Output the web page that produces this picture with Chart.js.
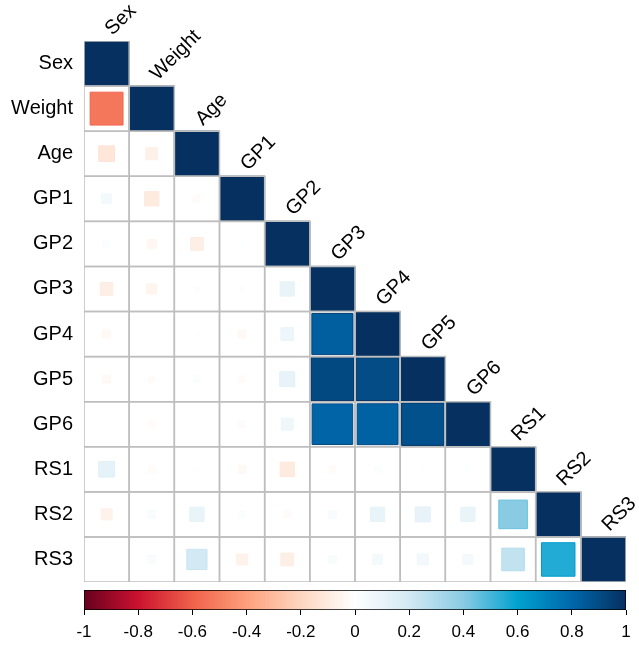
<!DOCTYPE html>
<html>
<head>
<meta charset="utf-8">
<script src="https://cdn.jsdelivr.net/npm/chart.js@4"></script>
<style>
  html, body { margin: 0; padding: 0; background: #ffffff; }
  #wrap { position: relative; width: 639px; height: 646px; }
  #matrix { position: absolute; left: 0; top: 0; }
  #legendBar { position: absolute; left: 0; top: 584px; }
</style>
</head>
<body>
<div id="wrap">
  <canvas id="matrix" width="639" height="646"></canvas>
  <canvas id="legendBar" width="639" height="62"></canvas>
</div>
<script>
// Variables, in matrix order
const variables = ['Sex', 'Weight', 'Age', 'GP1', 'GP2', 'GP3', 'GP4', 'GP5', 'GP6', 'RS1', 'RS2', 'RS3'];

// Lower-triangle correlations, one array per row (columns left of the diagonal)
const rowSex    = [];
const rowWeight = [-0.53];
const rowAge    = [-0.12, -0.07];
const rowGP1    = [0.05, -0.10, -0.02];
const rowGP2    = [0.02, -0.04, -0.08, 0.01];
const rowGP3    = [-0.08, -0.05, -0.01, -0.01, 0.10];
const rowGP4    = [-0.03, 0.00, 0.01, -0.03, 0.08, 0.83];
const rowGP5    = [-0.03, -0.02, 0.02, -0.02, 0.11, 0.91, 0.90];
const rowGP6    = [0.00, -0.02, 0.00, -0.02, 0.07, 0.81, 0.82, 0.88];
const rowRS1    = [0.12, -0.02, 0.01, -0.03, -0.10, -0.02, 0.02, 0.01, 0.01];
const rowRS2    = [-0.06, 0.03, 0.10, 0.02, -0.02, 0.03, 0.10, 0.11, 0.10, 0.40];
const rowRS3    = [0.00, 0.03, 0.20, -0.06, -0.08, 0.03, 0.05, 0.06, 0.05, 0.25, 0.55];

// Colour bar ticks
const scaleTicks = [-1, -0.8, -0.6, -0.4, -0.2, 0, 0.2, 0.4, 0.6, 0.8, 1];

// Diverging palette stops (value, colour)
const paletteValues = [-1, -0.8, -0.6, -0.4, -0.2, 0, 0.2, 0.4, 0.6, 0.8, 1];
const paletteColors = ['#67001f', '#cb1230', '#f0614a', '#fea07c', '#fdd6c0', '#ffffff',
                       '#d3e9f3', '#89cbe3', '#00a2d0', '#0067ab', '#05305f'];

const rows = [rowSex, rowWeight, rowAge, rowGP1, rowGP2, rowGP3, rowGP4, rowGP5, rowGP6, rowRS1, rowRS2, rowRS3];

function hexToRgb(h) {
  const n = parseInt(h.slice(1), 16);
  return [(n >> 16) & 255, (n >> 8) & 255, n & 255];
}
function corrColor(v) {
  v = Math.max(-1, Math.min(1, v));
  let i = 0;
  while (i < paletteValues.length - 2 && v > paletteValues[i + 1]) i++;
  const t = (v - paletteValues[i]) / (paletteValues[i + 1] - paletteValues[i]);
  const a = hexToRgb(paletteColors[i]), b = hexToRgb(paletteColors[i + 1]);
  const c = a.map((x, j) => Math.round(x + (b[j] - x) * t));
  return `rgb(${c[0]},${c[1]},${c[2]})`;
}

// Build points: every lower-triangle cell plus the diagonal
const cells = [];
rows.forEach((vals, i) => {
  vals.forEach((r, j) => cells.push({ x: j + 1, y: i + 1, r: r }));
  cells.push({ x: i + 1, y: i + 1, r: 1 });
});

function cellSide(chart) {
  const xs = chart.scales.x;
  return Math.abs(xs.getPixelForValue(1) - xs.getPixelForValue(0));
}

const FONT = 'Liberation Sans, Arial, Helvetica, sans-serif';

// Diagonal column labels, rotated 45 degrees
const diagonalLabels = {
  id: 'diagonalLabels',
  afterDatasetsDraw(chart) {
    const { ctx, scales: { x, y } } = chart;
    ctx.save();
    ctx.font = `20px ${FONT}`;
    ctx.fillStyle = '#000000';
    ctx.textAlign = 'left';
    ctx.textBaseline = 'alphabetic';
    variables.forEach((name, k) => {
      const px = x.getPixelForValue(k + 1);
      const py = y.getPixelForValue(k + 0.5);
      ctx.save();
      ctx.translate(px + 6, py - 5);
      ctx.rotate(-Math.PI / 4);
      ctx.fillText(name, 0, 0);
      ctx.restore();
    });
    ctx.restore();
  }
};

new Chart(document.getElementById('matrix'), {
  type: 'scatter',
  data: {
    datasets: [
      {
        // grey cell outlines, drawn on top
        data: cells,
        order: 0,
        pointStyle: 'rect',
        backgroundColor: 'rgba(0,0,0,0)',
        borderColor: '#bebebe',
        borderWidth: 1.5,
        pointRadius: ctx => cellSide(ctx.chart) / Math.SQRT2
      },
      {
        // coloured squares, area proportional to |r|
        data: cells,
        order: 1,
        pointStyle: 'rect',
        backgroundColor: ctx => corrColor(ctx.raw.r),
        borderColor: ctx => corrColor(ctx.raw.r * 1.12),
        borderWidth: 1,
        pointRadius: ctx => cellSide(ctx.chart) * Math.sqrt(Math.abs(ctx.raw.r)) / Math.SQRT2
      }
    ]
  },
  options: {
    responsive: false,
    animation: false,
    devicePixelRatio: 1,
    events: [],
    layout: { padding: { left: 0, right: 13, top: 41, bottom: 64 } },
    plugins: { legend: { display: false }, tooltip: { enabled: false } },
    scales: {
      x: { type: 'linear', min: 0.5, max: 12.5, display: false },
      y: {
        type: 'linear', min: 0.5, max: 12.5, reverse: true,
        afterFit: s => { s.width = 84; },
        afterBuildTicks: s => { s.ticks = variables.map((_, i) => ({ value: i + 1 })); },
        grid: { display: false, drawTicks: false },
        border: { display: false },
        ticks: {
          autoSkip: false,
          padding: 11,
          color: '#000000',
          font: { family: FONT, size: 20 },
          callback: v => variables[v - 1]
        }
      }
    }
  },
  plugins: [diagonalLabels]
});

// Colour bar
new Chart(document.getElementById('legendBar'), {
  type: 'bar',
  data: {
    labels: [''],
    datasets: [{
      data: [[scaleTicks[0], scaleTicks[scaleTicks.length - 1]]],
      backgroundColor: ctx => {
        const chart = ctx.chart;
        const xs = chart.scales.x;
        if (!xs || !chart.chartArea) return '#ffffff';
        const g = chart.ctx.createLinearGradient(xs.getPixelForValue(-1), 0, xs.getPixelForValue(1), 0);
        paletteValues.forEach((v, i) => g.addColorStop((v + 1) / 2, paletteColors[i]));
        return g;
      },
      borderColor: '#000000',
      borderWidth: 1,
      borderSkipped: false,
      barPercentage: 1,
      categoryPercentage: 1
    }]
  },
  options: {
    indexAxis: 'y',
    responsive: false,
    animation: false,
    devicePixelRatio: 1,
    events: [],
    layout: { padding: { left: 84, right: 13, top: 6, bottom: 0 } },
    plugins: { legend: { display: false }, tooltip: { enabled: false } },
    scales: {
      y: { display: false },
      x: {
        type: 'linear', min: -1, max: 1,
        afterFit: s => { s.height = 36; },
        afterBuildTicks: s => { s.ticks = scaleTicks.map(v => ({ value: v })); },
        grid: { drawOnChartArea: false, drawTicks: true, tickLength: 5, color: '#000000', lineWidth: 1 },
        border: { display: false },
        ticks: {
          autoSkip: false,
          maxRotation: 0,
          padding: 7,
          color: '#000000',
          font: { family: FONT, size: 17 },
          callback: v => String(Number(v.toFixed(1)))
        }
      }
    }
  }
});
</script>
</body>
</html>
